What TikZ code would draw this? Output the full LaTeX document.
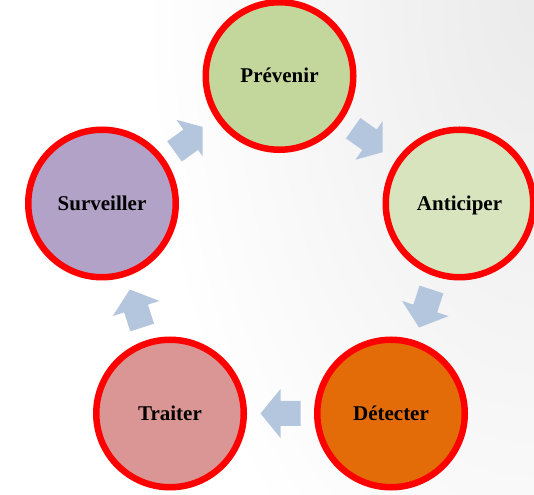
\documentclass[tikz,border=0pt]{standalone}
\usepackage{fontspec}
\setmainfont{Liberation Serif}
\usetikzlibrary{calc}

\definecolor{ringred}{HTML}{FF0000}
\definecolor{arrowblue}{HTML}{B4C5DE}
\definecolor{prevenirfill}{HTML}{C3D69B}
\definecolor{anticiperfill}{HTML}{D7E4BD}
\definecolor{detecterfill}{HTML}{E36C09}
\definecolor{traiterfill}{HTML}{D99694}
\definecolor{surveillerfill}{HTML}{B3A2C7}

\tikzset{
  stage/.style={circle, draw=ringred, line width=6.5pt, minimum size=147.5pt,
    inner sep=0pt, font=\fontsize{21}{25}\selectfont\bfseries,
    text height=13.9pt, text depth=0pt},
  arrowfill/.style={fill=arrowblue},
}

% block arrow centred between two stages, pointing from #1 to #2
\newcommand\cyclearrow[2]{%
  \pgfmathanglebetweenpoints{\pgfpointanchor{#1}{center}}{\pgfpointanchor{#2}{center}}%
  \let\arrowang\pgfmathresult
  \fill[arrowfill, shift={($(#1.center)!0.5!(#2.center)$)}, rotate=\arrowang]
    (-20,12.5) -- (0,12.5) -- (0,24.5) -- (20,0) -- (0,-24.5) -- (0,-12.5) -- (-20,-12.5) -- cycle;
}

\begin{document}
\begin{tikzpicture}[x=1pt, y=1pt]
  \coordinate (sw) at (0,0);
  \coordinate (ne) at (534,494);
  \useasboundingbox (sw) rectangle (ne);

  % soft grey glow in the upper right corner
  \begin{scope}
    \clip (sw) rectangle (ne);
    \shade[inner color=black!8, outer color=white] (ne) ellipse (390 and 700);
  \end{scope}

  % the five stages
  \node[stage, fill=prevenirfill]   (P) at (279.5,418)  {Prévenir};
  \node[stage, fill=anticiperfill]  (A) at (459.5,290.5) {Anticiper};
  \node[stage, fill=detecterfill]   (D) at (391,80.5)   {Détecter};
  \node[stage, fill=traiterfill]    (T) at (170,80.5)   {Traiter};
  \node[stage, fill=surveillerfill] (S) at (102,290.5)  {Surveiller};

  % arrows of the cycle
  \begin{scope}
    \clip (sw) rectangle (A.west |- ne);
    \cyclearrow{P}{A}
  \end{scope}
  \cyclearrow{A}{D}
  \cyclearrow{D}{T}
  \cyclearrow{T}{S}
  \begin{scope}
    \clip (sw) rectangle (P.west |- ne);
    \cyclearrow{S}{P}
  \end{scope}
\end{tikzpicture}
\end{document}
